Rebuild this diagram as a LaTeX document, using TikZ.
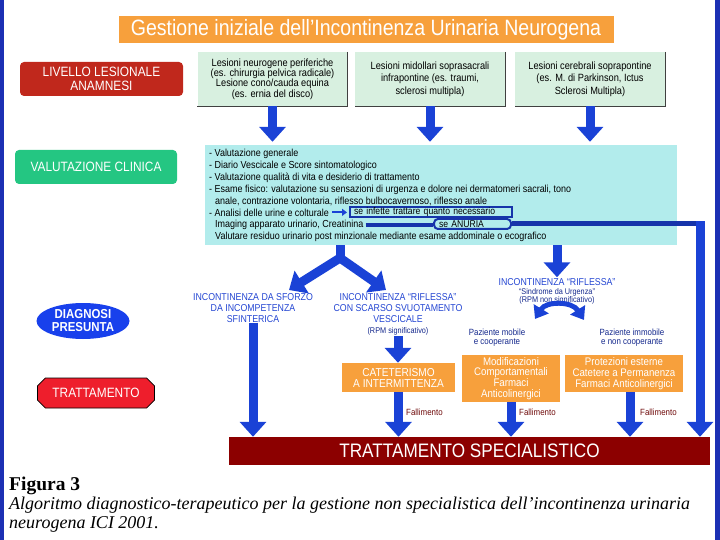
\documentclass[tikz,border=0pt]{standalone}
\usepackage{fontspec}
\setmainfont{Liberation Serif}
\newfontfamily\dsans[FakeStretch=0.88]{Liberation Sans}
\usetikzlibrary{arrows.meta,shapes.geometric,shapes.misc}
\definecolor{orng}{RGB}{247,160,60}
\definecolor{lred}{RGB}{192,40,28}
\definecolor{lgreen}{RGB}{216,240,224}
\definecolor{vgreen}{RGB}{36,198,130}
\definecolor{cyanb}{RGB}{178,236,236}
\definecolor{arrblue}{RGB}{26,66,214}
\definecolor{dblue}{RGB}{22,52,170}
\definecolor{lblue}{RGB}{36,70,210}
\definecolor{nblue}{RGB}{20,40,140}
\definecolor{pageblue}{RGB}{28,48,180}
\definecolor{ellblue}{RGB}{24,64,236}
\definecolor{tred}{RGB}{238,30,44}
\definecolor{specred}{RGB}{140,0,0}
\definecolor{fallred}{RGB}{110,10,10}
\newcommand{\fs}[2]{\fontsize{#1}{#2}\selectfont}
\begin{document}
\begin{tikzpicture}[x=1pt,y=-1pt,
  barrow/.style={draw=arrblue, line width=9pt, -{Triangle[width=26pt,length=15pt]}},
  gbox/.style={fill=lgreen, minimum width=150pt, minimum height=54pt, inner sep=0pt, align=center, font=\dsans\fs{10.5}{10.4}},
  ctext/.style={anchor=base west, inner sep=0pt, font=\dsans\fs{10.2}{12}},
  lbl/.style={text=lblue, align=center, inner sep=0pt, font=\dsans\fs{10}{11}},
  sml/.style={text=nblue, align=center, inner sep=0pt, font=\dsans\fs{8.3}{9}},
  obox/.style={fill=orng, text=white, align=center, inner sep=0pt, font=\dsans\fs{11}{10.8}},
  fall/.style={text=fallred, anchor=west, inner sep=0pt, font=\dsans\fs{9}{10}},
  lefttag/.style={text=white, align=center, inner sep=0pt, font=\dsans\fs{13.5}{14}},
]
\useasboundingbox (0,0) rectangle (720,540);
\fill[pageblue] (0,0) rectangle (4,540);
\fill[pageblue] (715,0) rectangle (720,540);

% title
\node[fill=orng, minimum width=495pt, minimum height=27pt, inner sep=0pt, text=white,
      font=\dsans\fs{22.2}{23}] (title) at (366,30) {Gestione iniziale dell’Incontinenza Urinaria Neurogena};

% left column
\node[lefttag, fill=lred, rounded corners=4pt, minimum width=163pt, minimum height=34pt] (liv) at (101.5,79) {LIVELLO LESIONALE\\ANAMNESI};
\node[lefttag, fill=vgreen, rounded corners=4pt, minimum width=162pt, minimum height=34pt] (val) at (96,167) {VALUTAZIONE CLINICA};
\node[ellipse, fill=ellblue, minimum width=93pt, minimum height=36pt, inner sep=0pt, text=white, align=center,
      font=\dsans\bfseries\fs{13}{13}] (dia) at (83,321) {DIAGNOSI\\PRESUNTA};
\node[chamfered rectangle, chamfered rectangle xsep=6pt, draw=black, line width=0.8pt, fill=tred,
      minimum width=117pt, minimum height=30pt, inner sep=0pt, text=white, font=\dsans\fs{13.5}{14}] (trt) at (96,393) {TRATTAMENTO};

% lesion boxes
\node[gbox] (b1) at (272.5,79) {Lesioni neurogene periferiche\\(es. chirurgia pelvica radicale)\\Lesione cono/cauda equina\\(es. ernia del disco)};
\node[gbox, font=\dsans\fs{10.5}{12.5}] (b2) at (430,79) {Lesioni midollari soprasacrali\\infrapontine (es. traumi,\\sclerosi multipla)};
\node[gbox, font=\dsans\fs{10.5}{12.5}] (b3) at (590,79) {Lesioni cerebrali soprapontine\\(es. M. di Parkinson, Ictus\\Sclerosi Multipla)};
\foreach \b in {b1,b2,b3}
  \draw[black!75, line width=1.2pt] (\b.north east) -- (\b.south east) -- (\b.south west);

% clinical box
\node[fill=cyanb, minimum width=472pt, minimum height=100pt, inner sep=0pt] (clin) at (441,195) {};
\foreach \b in {b1,b2,b3}
  \draw[barrow, shorten >=3pt] (\b.south) -- (\b.south |- clin.north);

\node[ctext] (c1) at (209,157) {- Valutazione generale};
\node[ctext] (c2) at (209,169) {- Diario Vescicale e Score sintomatologico};
\node[ctext] (c3) at (209,181) {- Valutazione qualità di vita e desiderio di trattamento};
\node[ctext] (c4) at (209,193) {- Esame fisico: valutazione su sensazioni di urgenza e dolore nei dermatomeri sacrali, tono};
\node[ctext] (c5) at (215,205) {anale, contrazione volontaria, riflesso bulbocavernoso, riflesso anale};
\node[ctext] (c6) at (209,216) {- Analisi delle urine e colturale};
\node[ctext] (c7) at (215,228) {Imaging apparato urinario, Creatinina};
\node[ctext] (c8) at (215,240) {Valutare residuo urinario post minzionale mediante esame addominale o ecografico};

\node[draw=dblue, line width=2pt, fill=cyanb, anchor=west, text width=154pt, align=left, inner xsep=4pt, inner ysep=0pt,
      minimum height=10pt, font=\dsans\fs{9.8}{10}] (inf) at (349,212) {se infette trattare quanto necessario};
\draw[arrblue, line width=2pt, -{Triangle[width=7pt,length=5pt]}] ([xshift=3pt]c6.east) -- ([xshift=-2pt]inf.west |- c6.east);

\node[draw=dblue, line width=2pt, rounded corners=4pt, fill=cyanb, anchor=west, text width=67pt, align=left, inner xsep=5pt, inner ysep=0pt,
      minimum height=10pt, font=\dsans\fs{9.8}{10}] (anu) at (433,224) {se ANURIA};
\draw[dblue, line width=4pt] ([xshift=2pt]c7.east) -- (c7.east -| anu.west);
\coordinate (corner) at (700,224);
\node[fill=specred, minimum width=481pt, minimum height=28pt, inner sep=0pt, text=white,
      font=\dsans\fs{19.5}{20}] (spec) at (469.5,451) {TRATTAMENTO SPECIALISTICO};
\draw[dblue, line width=5pt] (anu.east) -- ([xshift=3pt]corner);
\draw[barrow] ([yshift=2.5pt]corner) -- (corner |- spec.north);

% diagnosis labels
\node[lbl] (sf) at (253,308) {INCONTINENZA DA SFORZO\\DA INCOMPETENZA\\SFINTERICA};
\node[lbl] (rs) at (398,308) {INCONTINENZA “RIFLESSA”\\CON SCARSO SVUOTAMENTO\\VESCICALE};
\node[sml] (rpm) at (398,331) {(RPM significativo)};
\node[lbl] (ru) at (557,282) {INCONTINENZA “RIFLESSA”};
\node[sml] (sind) at (557,292) {“Sindrome da Urgenza”};
\node[sml] (rpm2) at (557,300.5) {(RPM non significativo)};
\node[sml, font=\dsans\fs{9}{9.5}] (pm) at (497,337.5) {Paziente mobile\\e cooperante};
\node[sml, font=\dsans\fs{9}{9.5}] (pi) at (632,337.5) {Paziente immobile\\e non cooperante};

% fork
\coordinate (fk) at (340,258);
\coordinate (fl) at (289,290);
\coordinate (fr) at (386,290);
\draw[arrblue, line width=9pt] (clin.south -| fk) -- ([yshift=-3pt]fk);
\draw[barrow] (fk) -- (fl);
\draw[barrow] (fk) -- (fr);
\draw[barrow] (clin.south -| ru) -- ([yshift=1pt]ru.north);

% curved double arrow
\coordinate (pl) at (535,319);
\coordinate (pr) at (584,320);
\draw[arrblue, line width=5pt, {Triangle[width=17pt,length=12pt]}-{Triangle[width=17pt,length=12pt]}]
  (pl) .. controls (546,301) and (572,301) .. (pr);

% treatment boxes
\node[obox, minimum width=113pt, minimum height=29pt, font=\dsans\fs{11.5}{11}] (cat) at (398.5,377.5) {CATETERISMO\\A INTERMITTENZA};
\node[obox, minimum width=98pt, minimum height=47pt] (mod) at (511,378.5) {Modificazioni\\Comportamentali\\Farmaci\\Anticolinergici};
\node[obox, minimum width=118pt, minimum height=37pt] (pro) at (624,373.5) {Protezioni esterne\\Catetere a Permanenza\\Farmaci Anticolinergici};

\draw[barrow] (sf.south) -- (sf.south |- spec.north);
\draw[barrow] ([yshift=-1pt]rpm.south) -- (rpm.south |- cat.north);
\draw[barrow] (cat.south) -- (cat.south |- spec.north);
\draw[barrow] (mod.south) -- (mod.south |- spec.north);
\draw[barrow] ([xshift=6pt]pro.south) -- ([xshift=6pt]pro.south |- spec.north);

\node[fall] (f1) at (406,412) {Fallimento};
\node[fall] (f2) at (519,412) {Fallimento};
\node[fall] (f3) at (640,412) {Fallimento};

% caption
\node[anchor=base west, inner sep=0pt, font=\bfseries\fs{19.5}{20}] (fig) at (9,490) {Figura 3};
\node[anchor=base west, inner sep=0pt, font=\itshape\fs{18}{18}] (cap1) at (9,509) {Algoritmo diagnostico-terapeutico per la gestione non specialistica dell’incontinenza urinaria};
\node[anchor=base west, inner sep=0pt, font=\itshape\fs{18}{18}] (cap2) at (9,528) {neurogena ICI 2001.};
\end{tikzpicture}
\end{document}
